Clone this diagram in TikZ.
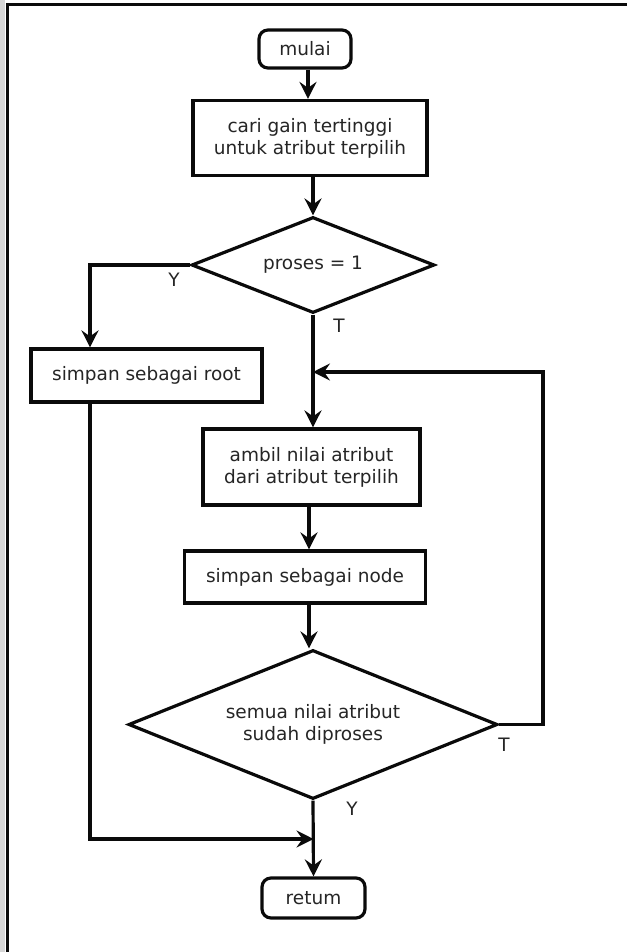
\documentclass[tikz,border=0pt]{standalone}
\usepackage{fontspec}
\setmainfont{DejaVu Sans}
\usetikzlibrary{shapes.geometric,arrows.meta}
\definecolor{ink}{HTML}{0A0A0A}
\definecolor{txt}{HTML}{252525}
\definecolor{edge}{HTML}{D6D6D6}
\begin{document}
\begin{tikzpicture}[x=1pt,y=-1pt,
  txtfont/.style={font=\fontsize{18.5}{22}\selectfont},
  base/.style={draw=ink, line width=3.2pt, text=txt, txtfont, align=center, inner sep=0pt},
  proc/.style={base, rectangle},
  term/.style={base, rectangle, rounded corners=9pt},
  dec/.style={base, diamond, aspect=2.5},
  flow/.style={draw=ink, line width=3.2pt, -{Stealth[length=17pt,width=17pt,inset=6pt]}},
  lbl/.style={text=txt, txtfont, inner sep=0pt}
]
\useasboundingbox (0,0) rectangle (627,952);

% page frame
\fill[edge] (0,0) rectangle (5,952);
\draw[ink, line width=3pt] (7,952) -- (7,5) -- (627,5);

% steps
\node[term, minimum width=92pt, minimum height=38pt] (mulai) at (305,49) {mulai};
\node[proc, minimum width=234pt, minimum height=75pt] (cari) at (310,138) {cari gain tertinggi\\untuk atribut terpilih};
\node[dec, minimum width=243pt, minimum height=96pt] (d1) at (313,265) {proses = 1};
\node[proc, minimum width=231pt, minimum height=53pt] (root) at (146.5,375.5) {simpan sebagai root};
\node[proc, minimum width=217pt, minimum height=76pt] (ambil) at (311.5,467) {ambil nilai atribut\\dari atribut terpilih};
\node[proc, minimum width=241pt, minimum height=52pt] (simpan) at (305,577) {simpan sebagai node};
\node[dec, minimum width=369pt, minimum height=149pt] (d2) at (313,724.5) {semua nilai atribut\\sudah diproses};
\node[term, minimum width=103pt, minimum height=40pt] (retum) at (313.5,898) {retum};

% routing points
\coordinate (lft) at (90,839);
\coordinate (loopin) at (313,372);
\coordinate (loopx) at (543,372);

% connectors
\draw[flow] (mulai.south -| 308,0) -- (cari.north -| 308,0);
\draw[flow] (d1 |- cari.south) -- (d1.north);
\draw[flow] (d1.west) -| (lft |- root.north);
\draw[flow] (d1.south) -- (d1.south |- ambil.north);
\draw[flow] (ambil.south -| 309,0) -- (simpan.north -| 309,0);
\draw[flow] (simpan.south -| 309,0) -- (d2.north -| 309,0);
\draw[flow] (d2.east) -- (d2.east -| loopx) -- (loopx) -- (loopin);
\draw[flow] (lft |- root.south) -- (lft) -- (lft -| retum);
\draw[flow] (d2.south) -- (retum.north);

% branch labels
\node[lbl] (y1) at ([shift={(-16,15)}]d1.west) {Y};
\node[lbl] (t1) at ([shift={(26,11)}]d1.south) {T};
\node[lbl] (t2) at ([shift={(5,20)}]d2.east) {T};
\node[lbl] (y2) at ([shift={(39,8)}]d2.south) {Y};
\end{tikzpicture}
\end{document}
